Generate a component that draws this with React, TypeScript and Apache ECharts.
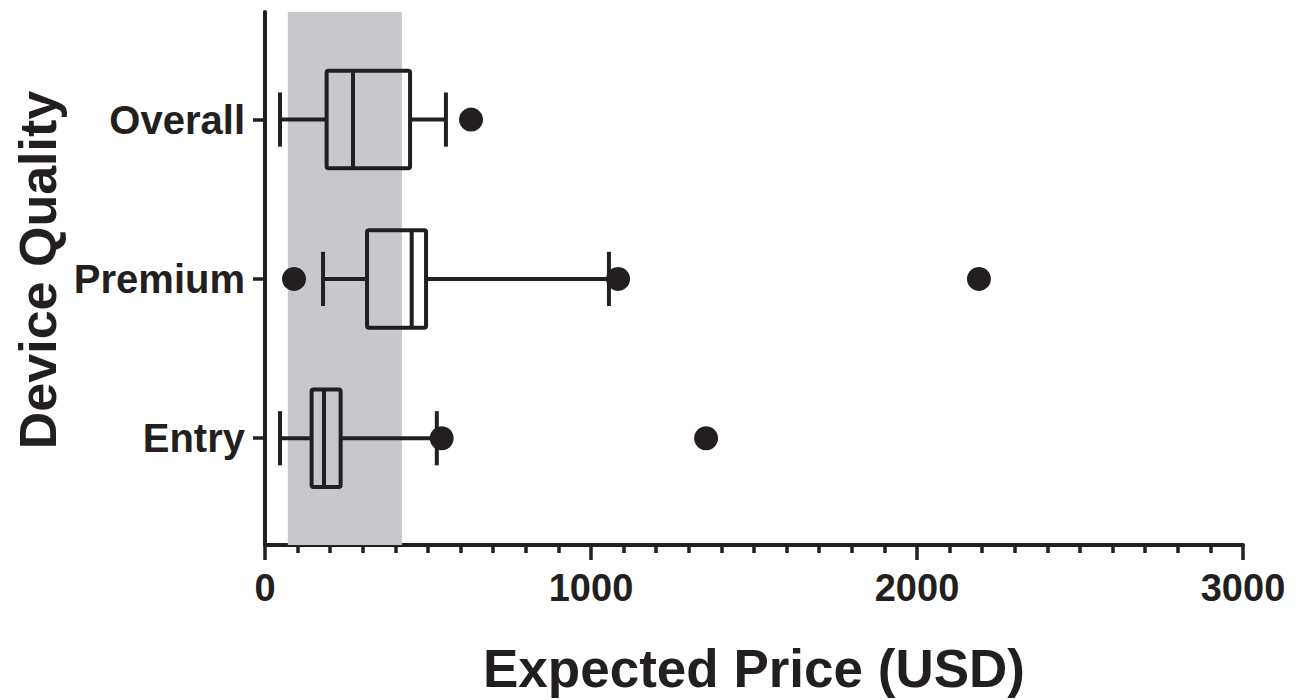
import React, { useEffect, useRef } from "react";
import * as echarts from "echarts";

// Device tiers, bottom to top on the category (value) axis
const categories = ["Entry", "Premium", "Overall"];
const categoryPos = [1, 2, 3];

// Five-number summaries of expected price (USD) per tier
const whiskerLow = [46, 178, 46];
const q1 = [143, 313, 189];
const median = [181, 450, 270];
const q3 = [232, 494, 445];
const whiskerHigh = [527, 1055, 555];

// Points outside the whiskers, per tier
const outliers = [
  [542, 1353],
  [89, 1083, 2190],
  [632],
];

// Shaded reference price range
const bandRange = [70, 420];

const xTicks = [0, 1000, 2000, 3000];

const INK = "#231f20";
const FONT = "'Liberation Sans', Arial, Helvetica, sans-serif";

export default function App() {
  const ref = useRef<HTMLDivElement>(null);

  useEffect(() => {
    if (!ref.current) return;
    const chart = echarts.init(ref.current, undefined, { renderer: "svg" });

    const boxData = categories.map((_, i) => [
      whiskerLow[i],
      q1[i],
      median[i],
      q3[i],
      whiskerHigh[i],
      categoryPos[i],
    ]);

    const outlierData: number[][] = [];
    outliers.forEach((vals, i) => {
      vals.forEach((v) => outlierData.push([v, categoryPos[i]]));
    });

    const boxHalf = 0.306;
    const capHalf = 0.17;
    const lw = 4;

    const renderBox = (params: any, api: any) => {
      const pos = api.value(5);
      const unit = api.size([0, 1])[1];
      const hb = unit * boxHalf;
      const hc = unit * capHalf;
      const pLow = api.coord([api.value(0), pos]);
      const pQ1 = api.coord([api.value(1), pos]);
      const pMed = api.coord([api.value(2), pos]);
      const pQ3 = api.coord([api.value(3), pos]);
      const pHigh = api.coord([api.value(4), pos]);
      const cy = pLow[1];
      const lineStyle = { stroke: INK, lineWidth: lw, fill: null, lineJoin: "round" };
      return {
        type: "group",
        children: [
          { type: "line", shape: { x1: pLow[0], y1: cy, x2: pQ1[0], y2: cy }, style: lineStyle },
          { type: "line", shape: { x1: pQ3[0], y1: cy, x2: pHigh[0], y2: cy }, style: lineStyle },
          { type: "line", shape: { x1: pLow[0], y1: cy - hc, x2: pLow[0], y2: cy + hc }, style: lineStyle },
          { type: "line", shape: { x1: pHigh[0], y1: cy - hc, x2: pHigh[0], y2: cy + hc }, style: lineStyle },
          {
            type: "rect",
            shape: { x: pQ1[0], y: cy - hb, width: pQ3[0] - pQ1[0], height: hb * 2, r: 2 },
            style: { stroke: INK, lineWidth: lw, fill: "rgba(0,0,0,0)", lineJoin: "round" },
          },
          { type: "line", shape: { x1: pMed[0], y1: cy - hb, x2: pMed[0], y2: cy + hb }, style: lineStyle },
        ],
      };
    };

    chart.setOption({
      animation: false,
      backgroundColor: "#ffffff",
      grid: { left: 265, right: 62, top: 12, bottom: 153, containLabel: false },
      xAxis: {
        type: "value",
        min: 0,
        max: 3000,
        interval: 1000,
        name: "Expected Price (USD)",
        nameLocation: "middle",
        nameGap: 97,
        nameTextStyle: { color: INK, fontFamily: FONT, fontWeight: "bold", fontSize: 53 },
        axisLine: { show: true, lineStyle: { color: INK, width: 4 } },
        axisTick: { show: true, length: 15, lineStyle: { color: INK, width: 3.5 } },
        minorTick: { show: true, splitNumber: 10, length: 8, lineStyle: { color: INK, width: 3.5 } },
        splitLine: { show: false },
        minorSplitLine: { show: false },
        axisLabel: {
          color: INK,
          fontFamily: FONT,
          fontWeight: "bold",
          fontSize: 38,
          margin: 24,
          customValues: xTicks,
          formatter: (v: number) => String(v),
        },
      },
      yAxis: {
        type: "value",
        min: 0.33,
        max: 3.675,
        axisLine: { show: true, onZero: false, lineStyle: { color: INK, width: 4 } },
        axisTick: { show: true, length: 12, customValues: categoryPos, lineStyle: { color: INK, width: 3.5 } },
        splitLine: { show: false },
        axisLabel: {
          color: INK,
          fontFamily: FONT,
          fontWeight: "bold",
          fontSize: 40,
          margin: 20,
          customValues: categoryPos,
          formatter: (v: number) => categories[categoryPos.indexOf(Math.round(v))] ?? "",
        },
      },
      graphic: [
        {
          type: "text",
          x: 38,
          y: 270,
          rotation: Math.PI / 2,
          style: {
            text: "Device Quality",
            fill: INK,
            font: `bold 52px ${FONT}`,
            align: "center",
            verticalAlign: "middle",
          },
        },
      ],
      series: [
        {
          name: "Reference range",
          type: "scatter",
          z: 1,
          data: [],
          markArea: {
            silent: true,
            itemStyle: { color: "#c7c8cb" },
            data: [[{ xAxis: bandRange[0] }, { xAxis: bandRange[1] }]],
          },
        },
        {
          name: "Expected price",
          type: "custom",
          z: 3,
          renderItem: renderBox,
          encode: { x: [0, 1, 2, 3, 4], y: 5 },
          data: boxData,
        },
        {
          name: "Outliers",
          type: "scatter",
          z: 4,
          symbol: "circle",
          symbolSize: 24,
          itemStyle: { color: INK, opacity: 1 },
          data: outlierData,
        },
      ],
    });

    return () => chart.dispose();
  }, []);

  return (
    <div
      ref={ref}
      style={{ position: "fixed", left: 0, top: 0, width: 1305, height: 700, background: "#fff" }}
    />
  );
}
